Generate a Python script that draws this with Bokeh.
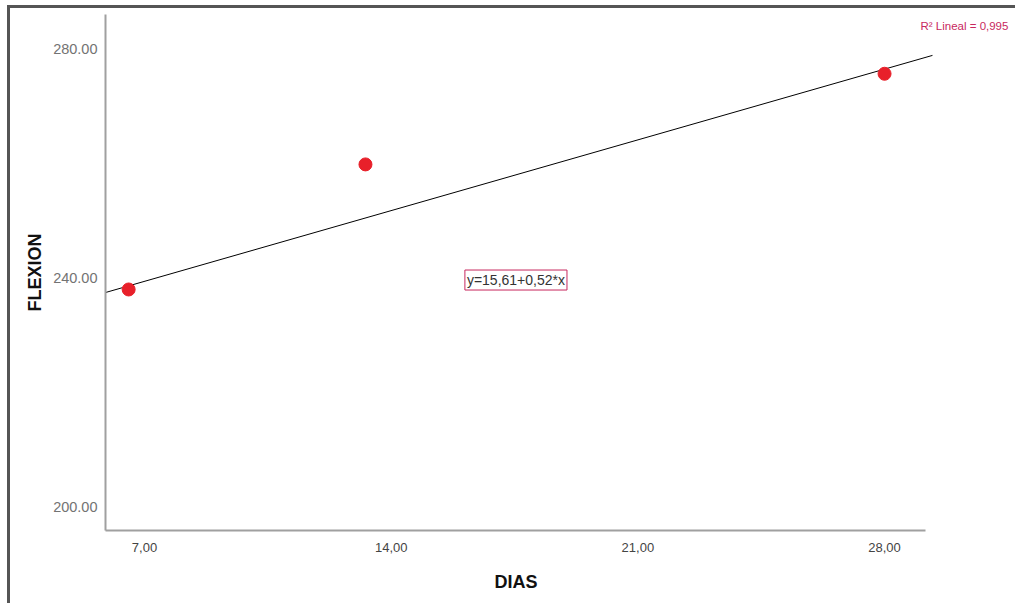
from bokeh.plotting import figure
from bokeh.models import Range1d, FixedTicker, Label, ColumnDataSource, Title
from bokeh.embed import file_html
from bokeh.resources import INLINE

# Data
dias = [6.55, 13.27, 28.0]
flexion = [238.0, 259.8, 275.6]

fit_x = [5.893, 29.36]
fit_y = [237.47, 278.8]

x_ticks = [7, 14, 21, 28]
x_tick_labels = ["7,00", "14,00", "21,00", "28,00"]
y_ticks = [200, 240, 280]
y_tick_labels = ["200.00", "240.00", "280.00"]

equation_text = "y=15,61+0,52*x"
r2_text = "R\u00b2 Lineal = 0,995"

FONT = "Liberation Sans"

p = figure(width=1008, height=598,
           x_range=Range1d(5.893, 31.801), y_range=Range1d(195.99, 285.93),
           output_backend="svg", toolbar_location=None,
           min_border_left=95, min_border_right=0,
           min_border_top=6, min_border_bottom=76,
           styles={"border-left": "3px solid #555555", "border-top": "3px solid #555555",
                   "margin-left": "7px", "margin-top": "5px"})
p.outline_line_color = None
p.xgrid.visible = False
p.ygrid.visible = False
p.background_fill_color = "white"
p.border_fill_color = "white"

xa = p.xaxis[0]
xa.ticker = FixedTicker(ticks=x_ticks)
xa.major_label_overrides = {t: l for t, l in zip(x_ticks, x_tick_labels)}
xa.bounds = (5.893, 29.16)
xa.axis_line_color = "#a0a0a0"
xa.axis_line_width = 2
xa.major_tick_line_color = None
xa.minor_tick_line_color = None
xa.major_tick_out = 0
xa.major_tick_in = 0
xa.major_label_standoff = 12
xa.major_label_text_font = FONT
xa.major_label_text_font_size = "13px"
xa.major_label_text_color = "#444444"

p.add_layout(Title(text="DIAS", align="left", offset=389,
                   text_font=FONT, text_font_style="bold", text_font_size="18px",
                   text_color="#111111", standoff=30), "below")

ya = p.yaxis[0]
ya.ticker = FixedTicker(ticks=y_ticks)
ya.major_label_overrides = {t: l for t, l in zip(y_ticks, y_tick_labels)}
ya.axis_line_color = "#a0a0a0"
ya.axis_line_width = 2
ya.major_tick_line_color = None
ya.minor_tick_line_color = None
ya.major_tick_out = 0
ya.major_tick_in = 0
ya.major_label_standoff = 8
ya.major_label_text_font = FONT
ya.major_label_text_font_size = "14.5px"
ya.major_label_text_color = "#737373"
ya.axis_label = "FLEXION"
ya.axis_label_text_font = FONT
ya.axis_label_text_font_style = "bold"
ya.axis_label_text_font_size = "18px"
ya.axis_label_text_color = "#111111"
ya.axis_label_standoff = 5

p.line(fit_x, fit_y, line_color="black", line_width=1)

src = ColumnDataSource(dict(x=dias, y=flexion))
p.scatter("x", "y", source=src, size=13, fill_color="#e8202a", line_color="#e8202a")

eq = Label(x=17.54, y=239.65, text=equation_text, text_align="center", text_baseline="middle",
           text_font=FONT, text_font_size="14px", text_color="#333333",
           border_line_color="#c8285e", border_line_width=1,
           background_fill_color="white", padding=2)
p.add_layout(eq)

r2 = Label(x=29.02, y=284.0, text=r2_text, text_align="left", text_baseline="middle",
           text_font=FONT, text_font_size="11.5px", text_color="#c8285e")
p.add_layout(r2)

open("out.html", "w").write(file_html(p, INLINE))
